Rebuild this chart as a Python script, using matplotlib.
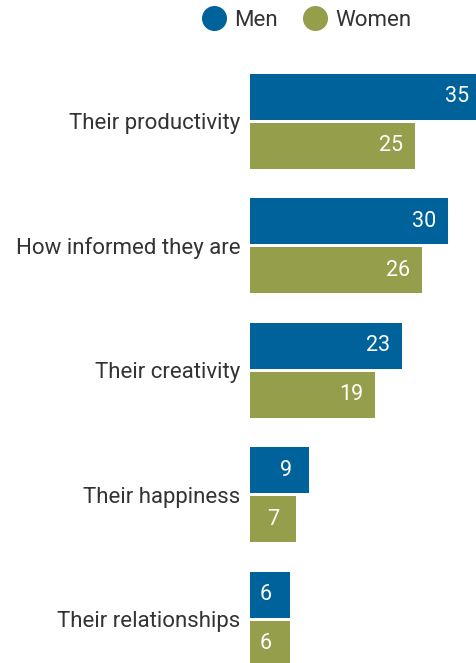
import matplotlib
matplotlib.use('Agg')
import matplotlib.pyplot as plt
import numpy as np
from matplotlib.lines import Line2D

plt.rcParams['font.family'] = ['Roboto', 'DejaVu Sans']

categories = ['Their productivity', 'How informed they are', 'Their creativity',
              'Their happiness', 'Their relationships']
men = [35, 30, 23, 9, 6]
women = [25, 26, 19, 7, 6]

men_color = '#00629A'
women_color = '#959E4A'
text_color = '#333333'

W, H = 477, 663
fig = plt.figure(figsize=(W / 100, H / 100), dpi=100)
# axes spans from the bar baseline to the right edge, full height
ax = fig.add_axes([250 / W, 0, 1 - 250 / W, 1])

px_unit = 6.6          # pixels per percentage point
spacing = 124.5        # pixels between groups
ax.set_xlim(0, (W - 250) / px_unit)
ax.set_ylim((H - 121.5) / spacing, -121.5 / spacing)

y = np.arange(len(categories))
h = 46 / spacing
off = 24.5 / spacing
ax.barh(y - off, men, height=h, color=men_color)
ax.barh(y + off, women, height=h, color=women_color)


def label(v, yy):
    # single digits sit a bit further in from the bar end
    pad = -8.5 if v >= 10 else -12.5
    ax.annotate(str(v), (v, yy), xytext=(pad, 0), textcoords='offset points',
                ha='right', va='center', color='white', fontsize=15.5, annotation_clip=False)


for i in range(len(categories)):
    label(men[i], y[i] - off)
    label(women[i], y[i] + off)

ax.set_yticks(y)
ax.set_yticklabels(categories, fontsize=16, color=text_color)
ax.tick_params(axis='y', length=0, pad=7)
ax.set_xticks([])
for s in ax.spines.values():
    s.set_visible(False)

handles = [Line2D([], [], marker='o', linestyle='', markersize=17, color=men_color),
           Line2D([], [], marker='o', linestyle='', markersize=17, color=women_color)]
fig.legend(handles, ['Men', 'Women'], loc='center', bbox_to_anchor=(307 / W, 1 - 20 / H),
           ncol=2, frameon=False, fontsize=16, handlelength=1, handletextpad=0.4,
           columnspacing=1.2, labelcolor=text_color)

fig.savefig('out.png', dpi=100)
